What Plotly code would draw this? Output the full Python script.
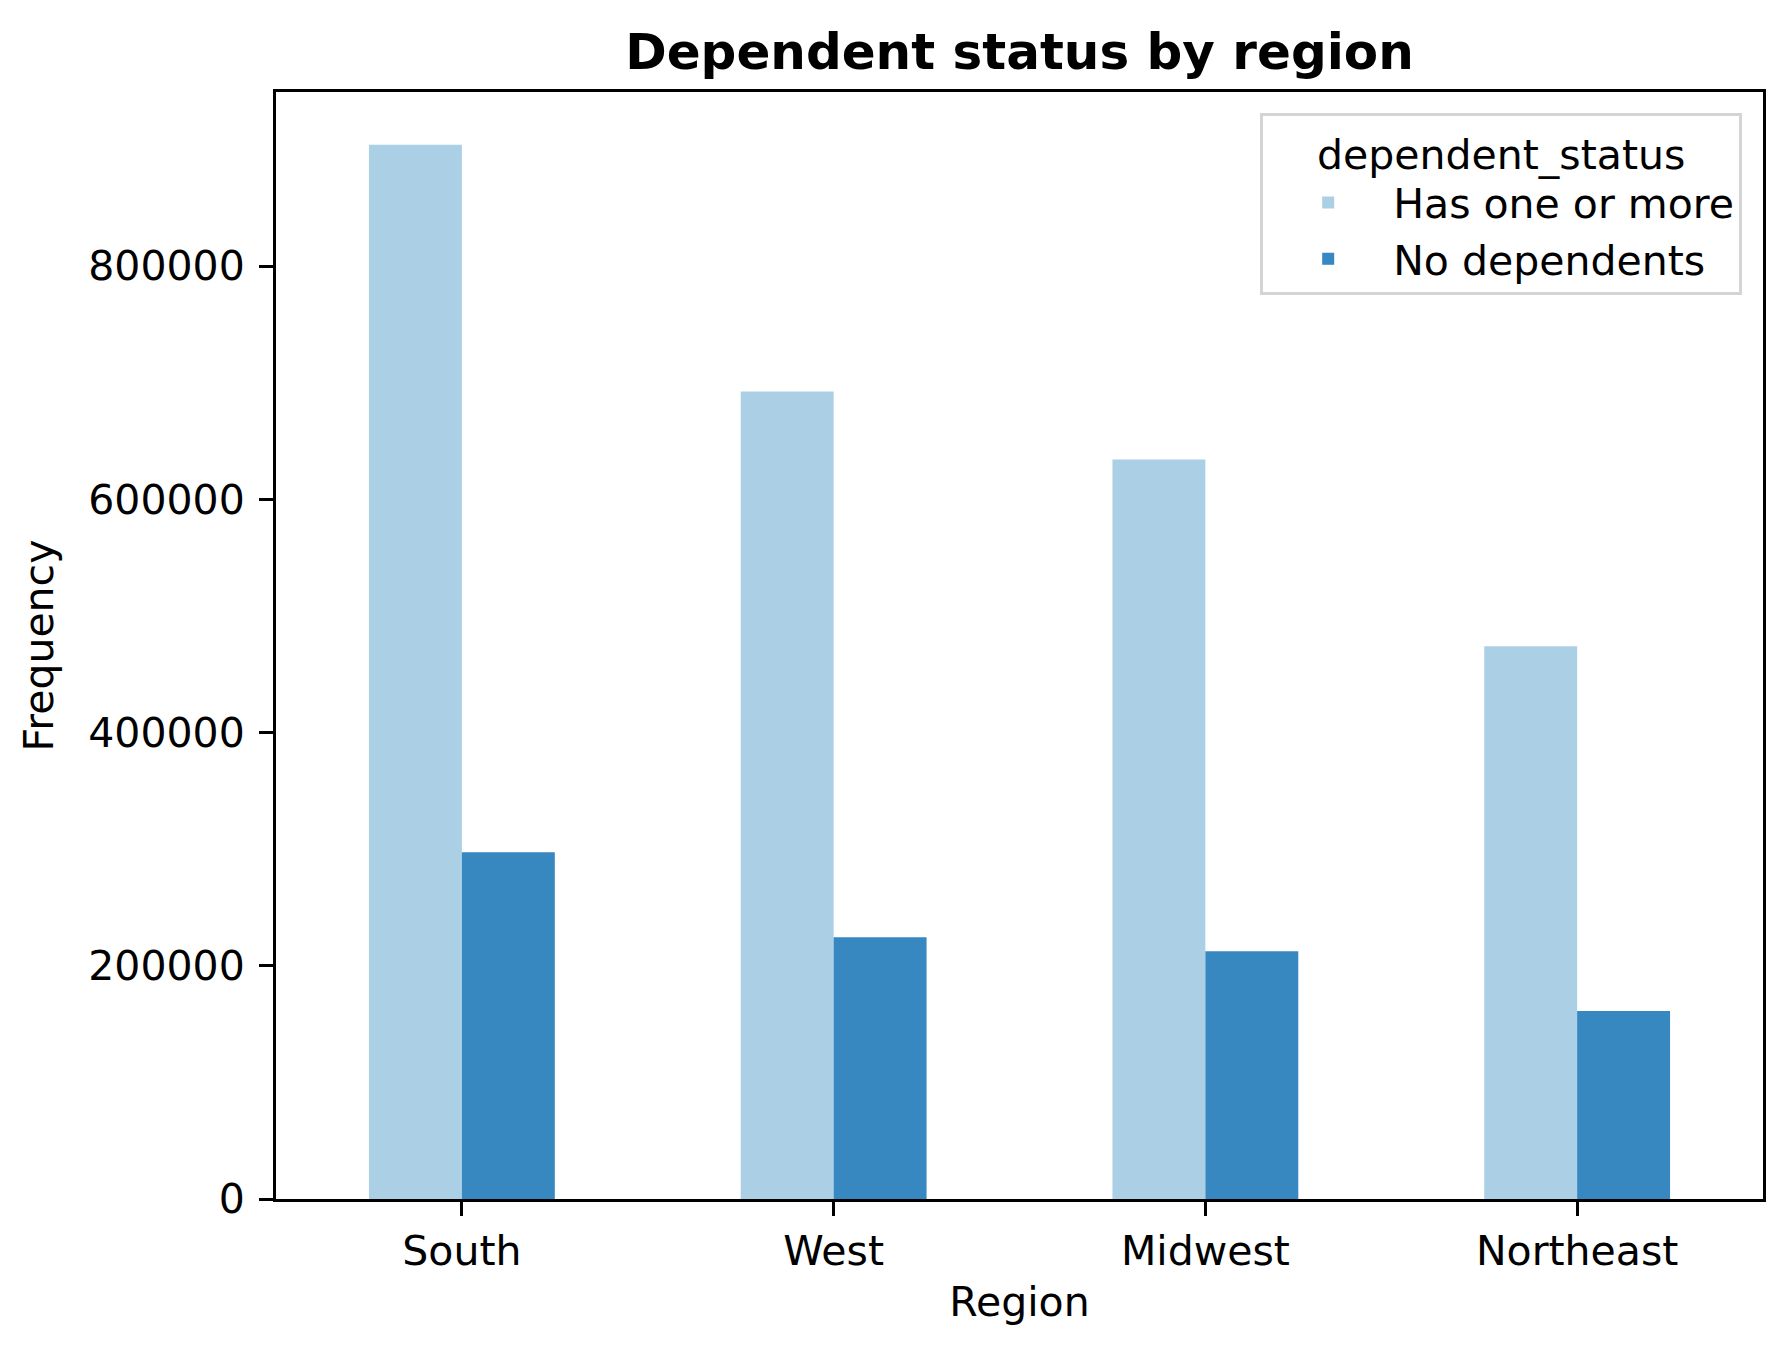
import plotly.graph_objects as go

regions = ["South", "West", "Midwest", "Northeast"]
has_one_or_more = [904000, 692400, 634100, 473900]
no_dependents = [297300, 224500, 212500, 161100]
series_names = ["Has one or more", "No dependents"]
y_ticks = [0, 200000, 400000, 600000, 800000]

FONT = "DejaVu Sans"
FS = 41
fig = go.Figure()
fig.add_trace(go.Bar(x=regions, y=has_one_or_more, name=series_names[0],
                     marker=dict(color="#abd0e6", line=dict(width=0))))
fig.add_trace(go.Bar(x=regions, y=no_dependents, name=series_names[1],
                     marker=dict(color="#3787c0", line=dict(width=0))))

fig.update_layout(
    width=1792, height=1357,
    margin=dict(l=268, r=37, t=84, b=166),
    paper_bgcolor="white", plot_bgcolor="white",
    font=dict(family=FONT, size=FS, color="black"),
    barmode="group", bargap=0.5, bargroupgap=0,
    title=dict(text="<b>Dependent status by region</b>", x=0.5, xref="paper",
               y=1 - 43 / 1357, yref="container", xanchor="center", yanchor="middle",
               font=dict(family=FONT, size=50, color="black")),
    legend=dict(x=0.986, y=0.981, xanchor="right", yanchor="top",
                bgcolor="white", bordercolor="#d4d4d4", borderwidth=3,
                title=dict(text="dependent_status", side="top center",
                           font=dict(family=FONT, size=FS)),
                font=dict(family=FONT, size=FS), itemwidth=120,
                tracegroupgap=4),
    showlegend=True,
)
fig.update_xaxes(
    range=[-0.5, 3.5], showline=True, linecolor="black", linewidth=3, mirror=True,
    ticks="outside", ticklen=14, tickwidth=3, tickcolor="black",
    showgrid=False, zeroline=False,
    title=dict(text="Region", font=dict(family=FONT, size=FS), standoff=14),
    tickfont=dict(family=FONT, size=FS),
)
fig.update_yaxes(
    range=[0, 949200], showline=True, linecolor="black", linewidth=3, mirror=True,
    ticks="outside", ticklen=14, tickwidth=3, tickcolor="black",
    tickvals=y_ticks, ticktext=[str(v) for v in y_ticks],
    showgrid=False, zeroline=False, ticklabelstandoff=6,
    title=dict(text="Frequency", font=dict(family=FONT, size=FS), standoff=22),
    tickfont=dict(family=FONT, size=FS),
)

fig.write_html("out.html")
